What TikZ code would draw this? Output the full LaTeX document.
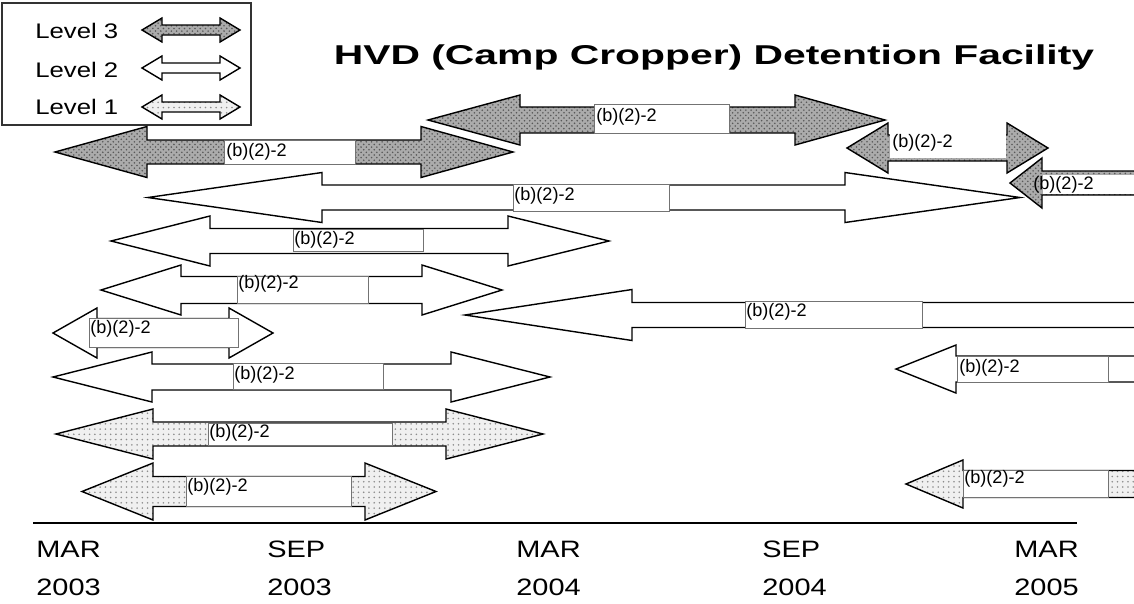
\documentclass[tikz,border=0pt]{standalone}
\usepackage{fontspec}
\usepackage{graphicx}
\setmainfont{Liberation Sans}
\usetikzlibrary{patterns}

\newcommand{\dblarrow}[8]{%
  \path[#1] (#2,#6) -- (#3,#6-#8) -- (#3,#6-#7) -- (#4,#6-#7) -- (#4,#6-#8)
    -- (#5,#6) -- (#4,#6+#8) -- (#4,#6+#7) -- (#3,#6+#7) -- (#3,#6+#8) -- cycle;}

\begin{document}
\begin{tikzpicture}[x=0.02cm, y=-0.02cm,
    level three/.style={preaction={fill=black!33}, pattern=crosshatch dots,
                        pattern color=black!65, draw=black, line width=0.8pt},
    level two/.style={fill=white, draw=black, line width=0.8pt},
    level one/.style={preaction={fill=black!6}, pattern=dots,
                      pattern color=black!45, draw=black, line width=0.8pt},
    label box/.style={fill=white, draw=black!55, line width=0.4pt},
    blank box/.style={fill=white},
    tag/.style={anchor=west, inner sep=0pt, font=\fontsize{10.3}{12}\selectfont},
    key/.style={anchor=west, inner sep=0pt, font=\fontsize{12}{14}\selectfont},
    time label/.style={anchor=west, inner sep=0pt, font=\fontsize{13.5}{15}\selectfont}]

  \useasboundingbox (0,0) rectangle (1134,603);
  \clip (0,0) rectangle (1134,603);

  \draw[line width=0.6pt, draw=black!80] (2,3) rectangle (251,125);
  \node[key] (lv3) at (35,31) {\scalebox{1.22}[1]{Level 3}};
  \node[key] (lv2) at (35,70) {\scalebox{1.22}[1]{Level 2}};
  \node[key] (lv1) at (35,107) {\scalebox{1.22}[1]{Level 1}};
  \dblarrow{level three}{142}{162}{220}{240}{30}{5}{12}
  \dblarrow{level two}{142}{162}{220}{240}{68}{5}{12}
  \dblarrow{level one}{142}{162}{220}{240}{107}{5}{12}

  \node[font=\bfseries\fontsize{15.5}{18}\selectfont] (title) at (714,57)
    {\scalebox{1.5}[1]{HVD (Camp Cropper) Detention Facility}};

  \dblarrow{level three}{428}{520}{795}{885}{120}{13}{25}
  \path[label box] (594,104) rectangle (729,133);
  \node[tag] (b1) at (596,117) {(b)(2)-2};

  \dblarrow{level three}{55}{147}{421}{513}{152}{12}{25.5}
  \path[label box] (224,140) rectangle (355,164);
  \node[tag] (b2) at (226,152) {(b)(2)-2};

  \dblarrow{level three}{847}{888}{1007}{1048}{148}{13}{25}
  \path[blank box] (889.5,133.5) rectangle (1005.5,157.5);
  \node[tag] (b3) at (892,143) {(b)(2)-2};

  \dblarrow{level two}{148}{322}{845}{1020}{197.5}{12.5}{25}
  \path[label box] (513,184) rectangle (669,211);
  \node[tag] (b5) at (514,196) {(b)(2)-2};

  \dblarrow{level three}{1010}{1042}{1200}{1240}{183}{12}{25}
  \path[blank box] (1043,174.5) rectangle (1140,193.5);
  \node[tag] (b4) at (1033,185) {(b)(2)-2};

  \dblarrow{level two}{111}{210}{508}{609}{241}{12.5}{25}
  \path[label box] (293,229) rectangle (423,251);
  \node[tag] (b6) at (294,240) {(b)(2)-2};

  \dblarrow{level two}{101}{181}{422}{502}{290}{13.5}{25}
  \path[label box] (237,276.5) rectangle (368,303.5);
  \node[tag] (b7) at (238,284) {(b)(2)-2};

  \dblarrow{level two}{465}{632}{1200}{1240}{315}{12.5}{25.5}
  \path[label box] (745,301) rectangle (922,328);
  \node[tag] (b8) at (746,312) {(b)(2)-2};

  \dblarrow{level two}{53}{97}{229}{273}{333}{14.5}{25}
  \path[label box] (89,318.5) rectangle (238,347.5);
  \node[tag] (b9) at (90,329) {(b)(2)-2};

  \dblarrow{level two}{53}{152}{451}{550}{377}{13}{25}
  \path[label box] (233,363) rectangle (383,389);
  \node[tag] (b10) at (234,375) {(b)(2)-2};

  \dblarrow{level two}{896}{956}{1200}{1240}{369}{13}{24}
  \path[label box] (957,356) rectangle (1108,382);
  \node[tag] (b13) at (959,368) {(b)(2)-2};

  \dblarrow{level one}{56}{153}{446}{543}{434}{12}{25}
  \path[label box] (208,423) rectangle (392,445);
  \node[tag] (b11) at (209,433) {(b)(2)-2};

  \dblarrow{level one}{82}{153}{365}{436}{491.5}{15}{28.5}
  \path[label box] (186,476.5) rectangle (351,506.5);
  \node[tag] (b12) at (187,487) {(b)(2)-2};

  \dblarrow{level one}{906}{963}{1200}{1240}{484}{13.5}{24}
  \path[label box] (963,470.5) rectangle (1108,497);
  \node[tag] (b14) at (964,479) {(b)(2)-2};

  \coordinate (axis start) at (33,523);
  \coordinate (axis end) at (1077,523);
  \draw[line width=1.1pt] (axis start) -- (axis end);

  \node[time label] (m1) at (36,549) {\scalebox{1.22}[1]{MAR}};
  \node[time label] (y1) at (36,587) {\scalebox{1.22}[1]{2003}};
  \node[time label] (m2) at (267,549) {\scalebox{1.22}[1]{SEP}};
  \node[time label] (y2) at (267,587) {\scalebox{1.22}[1]{2003}};
  \node[time label] (m3) at (516,549) {\scalebox{1.22}[1]{MAR}};
  \node[time label] (y3) at (516,587) {\scalebox{1.22}[1]{2004}};
  \node[time label] (m4) at (762,549) {\scalebox{1.22}[1]{SEP}};
  \node[time label] (y4) at (762,587) {\scalebox{1.22}[1]{2004}};
  \node[time label] (m5) at (1014,549) {\scalebox{1.22}[1]{MAR}};
  \node[time label] (y5) at (1014,587) {\scalebox{1.22}[1]{2005}};
\end{tikzpicture}
\end{document}
